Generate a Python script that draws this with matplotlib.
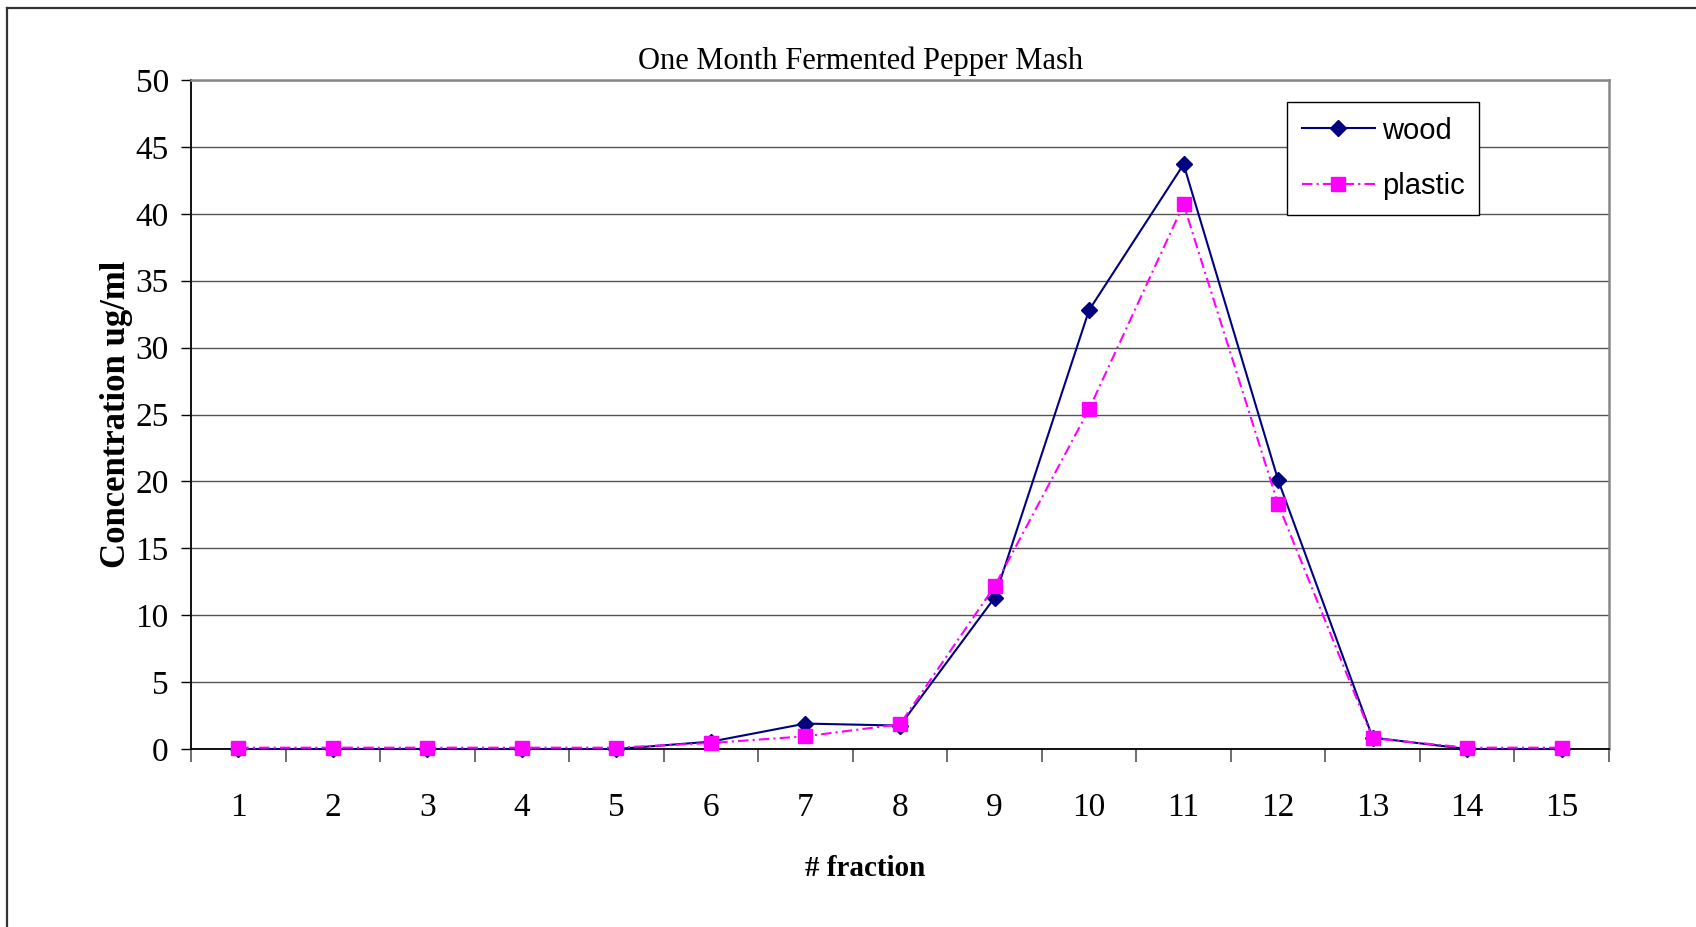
import numpy as np
import matplotlib
matplotlib.use("Agg")
import matplotlib.pyplot as plt
from matplotlib.lines import Line2D
from matplotlib.ticker import FixedLocator, NullFormatter

# fraction numbers and measured concentrations (ug/ml)
fractions = list(range(1, 16))
wood = [0.0, 0.0, 0.0, 0.0, 0.0, 0.55, 1.9, 1.75, 11.3, 32.8, 43.7, 20.1, 0.85, 0.0, 0.0]
plastic = [0.1, 0.1, 0.1, 0.1, 0.1, 0.45, 0.95, 1.85, 12.15, 25.4, 40.7, 18.3, 0.8, 0.1, 0.1]

y_ticks = [0, 5, 10, 15, 20, 25, 30, 35, 40, 45, 50]

W, H = 1696, 927
fig = plt.figure(figsize=(W / 100, H / 100), dpi=100)
fig.patch.set_facecolor("white")

# outer chart frame (top and left edges only)
fig.add_artist(Line2D([7 / W, 1.0], [1 - 8 / H, 1 - 8 / H], color="#333333", lw=1.6))
fig.add_artist(Line2D([7 / W, 7 / W], [1 - 8 / H, 0.0], color="#333333", lw=1.6))

ax = fig.add_axes([191 / W, 1 - 749 / H, (1609 - 191) / W, (749 - 80) / H])

ax.plot(fractions, wood, color="#000080", lw=1.5, marker="D", ms=8,
        label="wood", clip_on=False, zorder=3)
ax.plot(fractions, plastic, color="#ff00ff", lw=1.5, linestyle=(0, (5, 2, 1, 2)),
        marker="s", ms=9.5, label="plastic", clip_on=False, zorder=4)

ax.set_xlim(0.5, 15.5)
ax.set_ylim(0, 50)

serif = "Liberation Serif"

# y axis
ax.set_yticks(y_ticks)
ax.set_yticklabels([str(v) for v in y_ticks], fontfamily=serif, fontsize=24)
ax.tick_params(axis="y", direction="out", length=7, width=1, color="black", pad=9)
ax.yaxis.grid(True, color="#555555", lw=1.0)
ax.set_axisbelow(True)

# x axis: ticks between categories, labels centred on them
ax.xaxis.set_major_locator(FixedLocator(np.arange(0.5, 16, 1)))
ax.xaxis.set_major_formatter(NullFormatter())
ax.xaxis.set_minor_locator(FixedLocator(fractions))
ax.set_xticklabels([str(f) for f in fractions], minor=True, fontfamily=serif, fontsize=24)
ax.tick_params(axis="x", which="major", direction="out", length=9, width=1.2, color="#555555")
ax.tick_params(axis="x", which="minor", length=0, pad=31)

for side in ("left", "bottom"):
    ax.spines[side].set_color("black")
    ax.spines[side].set_linewidth(1.3)
for side in ("top", "right"):
    ax.spines[side].set_color("#888888")
    ax.spines[side].set_linewidth(1.8)

ax.set_ylabel("Concentration ug/ml", fontfamily=serif, fontsize=25,
              fontweight="bold", labelpad=2)

fig.text(861 / W, 1 - 61 / H, "One Month Fermented Pepper Mash",
         fontfamily=serif, fontsize=22, ha="center", va="center")
fig.text(865 / W, 1 - 869 / H, "# fraction", fontfamily=serif, fontsize=21,
         fontweight="bold", ha="center", va="center")

leg = ax.legend(loc="upper left", bbox_to_anchor=((1287 - 191) / (1609 - 191), (749 - 102) / 669),
                prop={"family": "Liberation Sans", "size": 21}, frameon=True, fancybox=False,
                edgecolor="black", framealpha=1, borderpad=0.5, borderaxespad=0,
                handlelength=2.5, handletextpad=0.25, labelspacing=0.95)
leg.get_frame().set_linewidth(1.0)

fig.savefig("out.png", dpi=100, facecolor="white")
